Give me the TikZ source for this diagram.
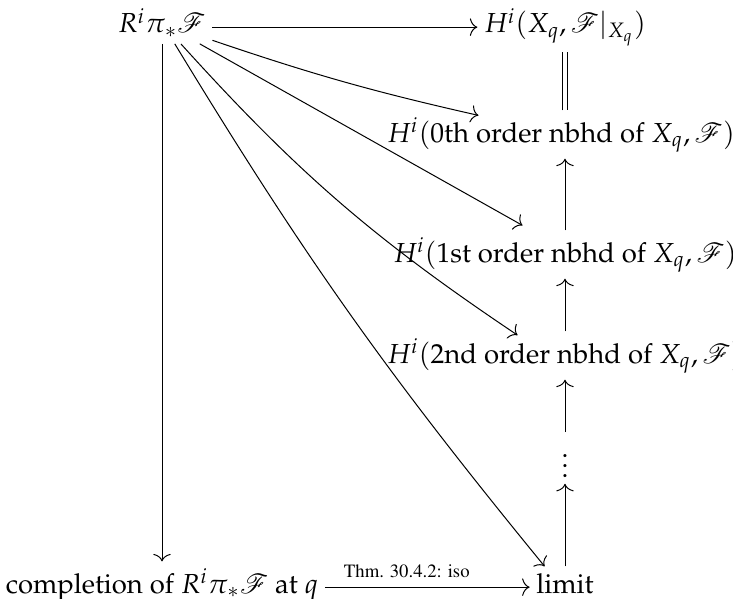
\documentclass[tikz,border=0pt]{standalone}
\usepackage[T1]{fontenc}
\usepackage{mathpazo}
\usepackage{mathrsfs}
\usetikzlibrary{arrows.meta}

\begin{document}
\begin{tikzpicture}[x=0.4pt, y=-0.4pt, >={Computer Modern Rightarrow[length=3pt, width=7pt]},
  obj/.style = {anchor=base, inner sep=2.5pt, font=\fontsize{11}{13}\selectfont},
  lbl/.style = {above, inner sep=3.5pt, font=\fontfamily{ptm}\fontsize{7.5}{9}\selectfont}
]
\useasboundingbox (0,0) rectangle (733,599);

%% --- Objects ---
\node[obj] (rpi)  at (162,33)  {$R^i\pi_*\mathscr{F}$};
\node[obj] (hx)   at (565,33)  {$H^i(X_q,\mathscr{F}|_{X_q})$};
\node[obj] (nb0)  at (561,142) {$H^i($0th order nbhd of $X_q,\mathscr{F})$};
\node[obj] (nb1)  at (565,262) {$H^i($1st order nbhd of $X_q,\mathscr{F})$};
\node[obj] (nb2)  at (565,363) {$H^i($2nd order nbhd of $X_q,\mathscr{F})$};
\node[obj] (dots) at (565,477) {$\vdots$};
\node[obj] (lim)  at (565,593) {limit};
\node[obj] (comp) at (162,593) {completion of $R^i\pi_*\mathscr{F}$ at $q$};

%% --- Top row and left column ---
\draw[->] (rpi.mid east) -- (hx.mid west);
\draw[->] (rpi) -- (comp);
\draw[->] (comp.mid east) -- node[lbl, pos=.4] {Thm. 30.4.2: iso} (lim.mid west);

%% --- Maps to the neighbourhoods ---
\draw[->] (rpi) to[bend right=3] ([xshift=-33pt,yshift=-2pt]nb0.north);
\draw[->] (rpi) -- ([xshift=-17pt,yshift=2pt]nb1.north);
\draw[->] (rpi) to[bend right=7] ([xshift=-19pt,yshift=-1.5pt]nb2.north);
\draw[->] (rpi) to[bend right=4] ([xshift=6pt]lim.north west);

%% --- Right column ---
\draw[double, double distance=1.6pt] (nb0.north -| hx) -- (hx);
\draw[->] (nb1) -- (nb1 |- nb0.south);
\draw[->] (nb2) -- (nb1);
\draw[->] (dots) -- (nb2);
\draw[->] (lim) -- (dots);
\end{tikzpicture}
\end{document}
